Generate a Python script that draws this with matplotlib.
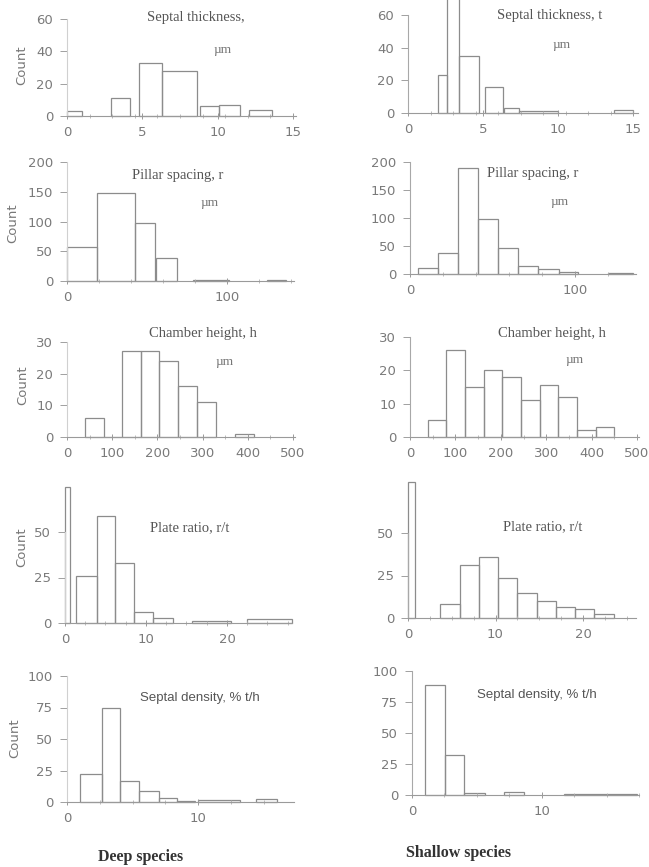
import numpy as np
import matplotlib
matplotlib.use("Agg")
import matplotlib.pyplot as plt
from matplotlib.ticker import FixedLocator, MultipleLocator

# ---------------- data (bin low edge, bin high edge, count) ----------------
# Deep species
deep_t_lo = [0.0, 2.9, 4.8, 6.3, 8.8, 10.1, 12.1]
deep_t_hi = [1.0, 4.2, 6.3, 8.6, 10.1, 11.5, 13.6]
deep_t_n = [3, 11, 33, 28, 6, 7, 4]

deep_r_lo = [0.0, 18.8, 42.7, 55.6, 79.0, 125.0]
deep_r_hi = [18.8, 42.7, 55.2, 68.8, 101.0, 137.0]
deep_r_n = [58, 148, 98, 38, 2, 2]

deep_h_lo = [40, 81, 122, 163, 204, 246, 288, 372]
deep_h_hi = [81, 122, 163, 204, 246, 288, 330, 414]
deep_h_n = [6, 0, 27, 27, 24, 16, 11, 1]

deep_pr_lo = [0.0, 1.4, 3.9, 6.2, 8.5, 10.9, 15.7, 22.5]
deep_pr_hi = [0.6, 3.9, 6.2, 8.5, 10.9, 13.3, 20.5, 28.0]
deep_pr_n = [75, 26, 59, 33, 6, 3, 1, 2]

deep_sd_lo = [1.0, 2.65, 4.05, 5.5, 7.0, 8.4, 10.0, 14.4]
deep_sd_hi = [2.65, 4.05, 5.5, 7.0, 8.4, 9.8, 13.2, 16.0]
deep_sd_n = [22, 75, 17, 9, 3, 1, 1.5, 2]

# Shallow species
shal_t_lo = [2.0, 2.6, 3.4, 5.1, 6.4, 7.4, 13.7]
shal_t_hi = [2.6, 3.4, 4.7, 6.3, 7.4, 10.0, 15.0]
shal_t_n = [23, 70, 35, 16, 3, 1, 2]

shal_r_lo = [4.6, 17.2, 29.3, 41.4, 53.5, 65.6, 77.8, 90.0, 120.0]
shal_r_hi = [17.2, 29.3, 41.4, 53.5, 65.6, 77.8, 90.0, 102.0, 135.0]
shal_r_n = [11, 37, 190, 98, 47, 15, 9, 3, 2]

shal_h_lo = [39, 80, 121, 162, 203, 244, 286, 327, 368, 409]
shal_h_hi = [80, 121, 162, 203, 244, 286, 327, 368, 409, 450]
shal_h_n = [5, 26, 15, 20, 18, 11, 15.5, 12, 2, 3]

shal_pr_lo = [0.0, 3.7, 5.9, 8.1, 10.3, 12.5, 14.7, 16.9, 19.1, 21.3]
shal_pr_hi = [0.8, 5.9, 8.1, 10.3, 12.5, 14.7, 16.9, 19.1, 21.3, 23.5]
shal_pr_n = [80, 8, 31, 36, 23.5, 14.5, 10, 6.5, 5.5, 2.5]

shal_sd_lo = [1.0, 2.55, 4.0, 7.1, 11.7]
shal_sd_hi = [2.55, 4.0, 5.6, 8.6, 17.3]
shal_sd_n = [89, 32, 2, 2.5, 0.6]

# tick labels
ticks_t = [0, 5, 10, 15]
ticks_r = [0, 100]
ticks_h = [0, 100, 200, 300, 400, 500]
ticks_pr = [0, 10, 20]
ticks_sd = [0, 10]
yt_t = [0, 20, 40, 60]
yt_r = [0, 50, 100, 150, 200]
yt_h = [0, 10, 20, 30]
yt_pr = [0, 25, 50]
yt_sd = [0, 25, 50, 75, 100]

titles = ["Septal thickness,", "Pillar spacing, r", "Chamber height, h",
          "Plate ratio, r/t", "Septal density, % t/h"]
titles_r = ["Septal thickness, t", "Pillar spacing, r", "Chamber height, h",
            "Plate ratio, r/t", "Septal density, % t/h"]
unit_label = "\u00b5m"

# ---------------- layout ----------------
W, H = 649, 867
fig = plt.figure(figsize=(W / 100, H / 100), dpi=100)
fig.patch.set_facecolor("white")

EDGE = "#8c8c8c"
TICKC = "#7a7a7a"
TXT = "#555555"

# (x0 px, px per x unit, xmax, y0 px, px per y unit, ymax, minor step)
layout_left = [
    (67, 15.07, 15.2, 116, 1.617, 60, 1.5),
    (67, 1.60, 142, 281, 0.593, 200, 20),
    (67, 0.452, 505, 437, 3.167, 30, 50),
    (65, 8.10, 28, 623, 1.82, 60, 2.5),
    (67, 13.1, 17.3, 802, 1.26, 100, 2.5),
]
layout_right = [
    (408, 15.0, 15.3, 113, 1.633, 60, 1.5),
    (410, 1.65, 137, 274, 0.56, 200, 20),
    (410, 0.454, 505, 437, 3.33, 30, 50),
    (408, 8.75, 26, 618, 1.70, 60, 2.5),
    (412, 13.0, 17.5, 795, 1.24, 100, 2.5),
]

deep = [(deep_t_lo, deep_t_hi, deep_t_n), (deep_r_lo, deep_r_hi, deep_r_n),
        (deep_h_lo, deep_h_hi, deep_h_n), (deep_pr_lo, deep_pr_hi, deep_pr_n),
        (deep_sd_lo, deep_sd_hi, deep_sd_n)]
shallow = [(shal_t_lo, shal_t_hi, shal_t_n), (shal_r_lo, shal_r_hi, shal_r_n),
           (shal_h_lo, shal_h_hi, shal_h_n), (shal_pr_lo, shal_pr_hi, shal_pr_n),
           (shal_sd_lo, shal_sd_hi, shal_sd_n)]
xt = [ticks_t, ticks_r, ticks_h, ticks_pr, ticks_sd]
yt = [yt_t, yt_r, yt_h, yt_pr, yt_sd]


def make_panel(spec, data, xticks, yticks, left_col):
    x0, xppu, xmax, y0, yppu, ymax, minor = spec
    rect = [x0 / W, 1 - y0 / H, xmax * xppu / W, ymax * yppu / H]
    ax = fig.add_axes(rect)
    ax.set_facecolor("none")
    lo, hi, n = data
    ax.bar(lo, n, width=np.subtract(hi, lo), align="edge", fill=False,
           edgecolor=EDGE, linewidth=0.9, clip_on=False)
    ax.set_xlim(0, xmax)
    ax.set_ylim(0, ymax)
    for s in ("top", "right"):
        ax.spines[s].set_visible(False)
    ax.spines["bottom"].set_color("#9a9a9a")
    ax.spines["bottom"].set_linewidth(0.8)
    ax.spines["left"].set_color("#d0d0d0" if left_col else "#a8a8a8")
    ax.spines["left"].set_linewidth(0.8)
    ax.spines["left"].set_bounds(0, yticks[-1])
    ax.xaxis.set_major_locator(FixedLocator(xticks))
    ax.xaxis.set_minor_locator(MultipleLocator(minor))
    ax.yaxis.set_major_locator(FixedLocator(yticks))
    ax.tick_params(axis="x", which="major", direction="inout", length=4,
                   width=0.7, color="#9a9a9a", labelcolor=TICKC,
                   labelsize=9.5, pad=5)
    ax.tick_params(axis="x", which="minor", direction="inout", length=3,
                   width=0.6, color="#b0b0b0")
    ax.tick_params(axis="y", direction="out", length=5, width=0.7,
                   color="#a0a0a0", labelcolor=TICKC, labelsize=9.5, pad=5)
    ax.set_xticklabels([str(v) for v in xticks])
    ax.set_yticklabels([str(v) for v in yticks])
    return ax


for i in range(5):
    make_panel(layout_left[i], deep[i], xt[i], yt[i], True)
    make_panel(layout_right[i], shallow[i], xt[i], yt[i], False)

# Count labels (left column)
count_pos = [(22, 65), (13, 223), (23, 385), (22, 547), (15, 738)]
for (x, y) in count_pos:
    fig.text(x / W, 1 - y / H, "Count", rotation=90, ha="center", va="center",
             fontsize=9.5, color="#777777", family="DejaVu Sans")

# Titles
title_pos_l = [(196, 18), (178, 175), (203, 333), (190, 528), (200, 698)]
title_pos_r = [(550, 15), (533, 174), (552, 333), (543, 527), (537, 695)]
unit_pos_l = [(223, 50), (210, 203), (225, 362)]
unit_pos_r = [(562, 45), (560, 202), (575, 360)]
for i in range(5):
    sans = (i == 4)
    fam = "Liberation Sans" if sans else "Liberation Serif"
    fs = 9.5 if sans else 10.5
    fig.text(title_pos_l[i][0] / W, 1 - title_pos_l[i][1] / H, titles[i],
             ha="center", va="center", fontsize=fs, color=TXT, family=fam)
    fig.text(title_pos_r[i][0] / W, 1 - title_pos_r[i][1] / H, titles_r[i],
             ha="center", va="center", fontsize=fs, color=TXT, family=fam)
for i in range(3):
    fig.text(unit_pos_l[i][0] / W, 1 - unit_pos_l[i][1] / H, unit_label,
             ha="center", va="center", fontsize=9.5, color="#777777",
             family="Liberation Serif")
    fig.text(unit_pos_r[i][0] / W, 1 - unit_pos_r[i][1] / H, unit_label,
             ha="center", va="center", fontsize=9.5, color="#777777",
             family="Liberation Serif")

fig.text(141 / W, 1 - 857 / H, "Deep species", ha="center", va="center",
         fontsize=11.5, fontweight="bold", color="#333333",
         family="Liberation Serif")
fig.text(459 / W, 1 - 853 / H, "Shallow species", ha="center", va="center",
         fontsize=11.5, fontweight="bold", color="#333333",
         family="Liberation Serif")

fig.savefig("out.png", dpi=100, facecolor="white")
